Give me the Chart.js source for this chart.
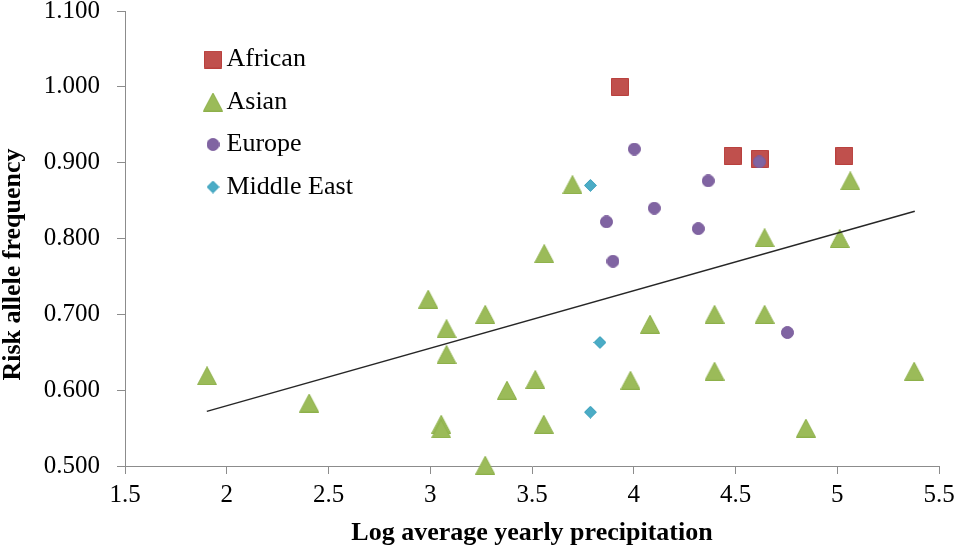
<!DOCTYPE html>
<html><head><meta charset="utf-8">
<script src="https://cdn.jsdelivr.net/npm/chart.js@4/dist/chart.umd.min.js"></script>
<style>html,body{margin:0;padding:0;background:#fff}#wrap{width:957px;height:550px;position:relative}</style>
</head><body><div id="wrap"><canvas id="c"></canvas></div>
<script>
// ---- data ----
const seriesNames = ['African', 'Asian', 'Europe', 'Middle East'];

const africanX = [3.932, 4.486, 4.619, 5.035];
const africanY = [1.000, 0.909, 0.905, 0.909];

const asianX = [1.903, 2.405, 2.990, 3.080, 3.080, 3.054, 3.054, 3.270, 3.270, 3.377, 3.516, 3.558,
                3.560, 3.699, 3.984, 4.080, 4.397, 4.397, 4.643, 4.643, 4.846, 5.012, 5.064, 5.378];
const asianY = [0.619, 0.583, 0.720, 0.681, 0.647, 0.555, 0.549, 0.700, 0.501, 0.600, 0.614, 0.555,
                0.780, 0.871, 0.613, 0.687, 0.700, 0.625, 0.801, 0.700, 0.550, 0.800, 0.876, 0.625];

const europeX = [4.003, 4.366, 4.617, 4.101, 3.866, 4.317, 3.898, 4.755];
const europeY = [0.918, 0.876, 0.901, 0.840, 0.822, 0.813, 0.770, 0.676];

const middleEastX = [3.787, 3.834, 3.787];
const middleEastY = [0.870, 0.663, 0.571];

const trendX = [1.902, 5.381];
const trendY = [0.572, 0.836];

const xTicks = [1.5, 2, 2.5, 3, 3.5, 4, 4.5, 5, 5.5];
const xTickLabels = ['1.5', '2', '2.5', '3', '3.5', '4', '4.5', '5', '5.5'];
const yTicks = [0.5, 0.6, 0.7, 0.8, 0.9, 1.0, 1.1];
const yTickLabels = ['0.500', '0.600', '0.700', '0.800', '0.900', '1.000', '1.100'];

const xTitle = 'Log average yearly precipitation';
const yTitle = 'Risk allele frequency';

// ---- helpers ----
const FONT = "'Liberation Serif', 'Times New Roman', serif";
const pts = (xs, ys) => xs.map((x, i) => ({x: x, y: ys[i]}));

function marker(shape, fill, stroke) {
  const c = document.createElement('canvas');
  let w = 13, h = 13;
  if (shape === 'square') { w = 18; h = 18; }
  if (shape === 'triangle') { w = 20; h = 19; }
  c.width = w; c.height = h;
  const g = c.getContext('2d');
  g.fillStyle = fill; g.strokeStyle = stroke; g.lineWidth = 1;
  g.beginPath();
  if (shape === 'square') { g.rect(0.5, 0.5, 17, 17); }
  else if (shape === 'circle') { g.arc(6.5, 6.5, 6, 0, Math.PI * 2); }
  else if (shape === 'diamond') { g.moveTo(6.5, 0.5); g.lineTo(12.5, 6.5); g.lineTo(6.5, 12.5); g.lineTo(0.5, 6.5); g.closePath(); }
  else if (shape === 'triangle') { g.moveTo(10, 0.5); g.lineTo(19.5, 18.5); g.lineTo(0.5, 18.5); g.closePath(); }
  g.fill(); g.stroke();
  return c;
}

const mkAfrican = marker('square', '#C0504D', '#B9403D');
const mkAsian = marker('triangle', '#9BBB59', '#8DB04A');
const mkEurope = marker('circle', '#8064A2', '#7A5C9C');
const mkME = marker('diamond', '#4BACC6', '#3FA2BD');

const legendPlace = {
  id: 'legendPlace',
  afterLayout(chart) {
    const l = chart.legend;
    if (!l) return;
    l.left = 196;
    l.top = 30;
  }
};

function scatterSet(label, data, img, order) {
  return {
    type: 'scatter', label: label, data: data,
    pointStyle: img, pointRadius: 6, pointHoverRadius: 6,
    backgroundColor: '#000', borderColor: '#000',
    showLine: false, clip: false, order: order
  };
}

new Chart(document.getElementById('c'), {
  type: 'scatter',
  data: {
    datasets: [
      scatterSet(seriesNames[0], pts(africanX, africanY), mkAfrican, 4),
      scatterSet(seriesNames[1], pts(asianX, asianY), mkAsian, 3),
      scatterSet(seriesNames[2], pts(europeX, europeY), mkEurope, 2),
      scatterSet(seriesNames[3], pts(middleEastX, middleEastY), mkME, 1),
      {
        type: 'line', label: 'trend', data: pts(trendX, trendY),
        borderColor: '#262626', borderWidth: 1.5, pointRadius: 0,
        fill: false, tension: 0, clip: false, order: 0
      }
    ]
  },
  options: {
    responsive: true,
    maintainAspectRatio: false,
    animation: false,
    events: [],
    layout: { padding: { top: 11, right: 18, left: 0, bottom: 0 } },
    plugins: {
      tooltip: { enabled: false },
      legend: {
        position: 'chartArea',
        align: 'start',
        labels: {
          sort: (a, b) => a.datasetIndex - b.datasetIndex,
          filter: (item) => item.datasetIndex < 4,
          usePointStyle: true,
          pointStyleWidth: 1,
          padding: 16.5,
          color: '#000',
          font: { family: FONT, size: 26 }
        }
      }
    },
    scales: {
      x: {
        type: 'linear', min: 1.5, max: 5.5,
        afterBuildTicks: (s) => { s.ticks = xTicks.map(v => ({value: v})); },
        afterFit: (s) => { s.height = 84; s.paddingLeft = 0; s.paddingRight = 0; s.paddingTop = 0; s.paddingBottom = 0; },
        ticks: {
          callback: (v, i) => xTickLabels[i],
          color: '#000', padding: 9, maxRotation: 0, autoSkip: false,
          font: { family: FONT, size: 25, lineHeight: 1 }
        },
        grid: { drawOnChartArea: false, drawTicks: true, tickLength: 8, color: '#8C8C8C', lineWidth: 1 },
        border: { color: '#8C8C8C', width: 1 },
        title: {
          display: true, text: xTitle, color: '#000',
          font: { family: FONT, size: 26, weight: 'bold', lineHeight: 1 },
          padding: { top: 0, bottom: 3.5 }
        }
      },
      y: {
        type: 'linear', min: 0.5, max: 1.1,
        afterBuildTicks: (s) => { s.ticks = yTicks.map(v => ({value: v})); },
        afterFit: (s) => { s.width = 125; s.paddingLeft = 0; s.paddingRight = 0; s.paddingTop = 0; s.paddingBottom = 0; },
        ticks: {
          callback: (v, i) => yTickLabels[i],
          color: '#000', padding: 17,
          font: { family: FONT, size: 25, lineHeight: 0.8 }
        },
        grid: { drawOnChartArea: false, drawTicks: true, tickLength: 8, color: '#8C8C8C', lineWidth: 1 },
        border: { color: '#8C8C8C', width: 1 },
        title: {
          display: true, text: yTitle + '        ', color: '#000',
          font: { family: FONT, size: 26, weight: 'bold', lineHeight: 1 },
          padding: { top: 0, bottom: 0 }
        }
      }
    }
  },
  plugins: [legendPlace]
});
</script>
</body></html>
